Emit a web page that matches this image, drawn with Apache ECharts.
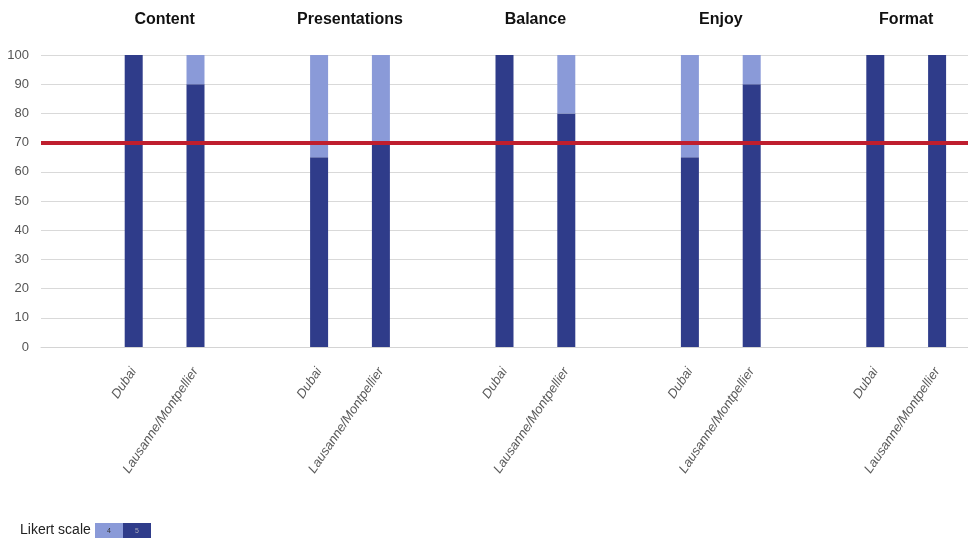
<!DOCTYPE html>
<html>
<head>
<meta charset="utf-8">
<script src="https://cdn.jsdelivr.net/npm/echarts@6/dist/echarts.min.js"></script>
<style>
  body { margin: 0; background: #fff; }
  #main { width: 968px; height: 540px; }
</style>
</head>
<body>
<div id="main"></div>
<script>
// 3 slots per group: spacer, Dubai, Lausanne/Montpellier
var groups = ['Content', 'Presentations', 'Balance', 'Enjoy', 'Format']
var sites = ['Dubai', 'Lausanne/Montpellier']
var likert5 = [100, 90, 65, 70, 100, 80, 65, 90, 100, 100]
var likert4 = [0, 10, 35, 30, 0, 20, 35, 10, 0, 0]
var yTicks = [0, 10, 20, 30, 40, 50, 60, 70, 80, 90, 100]
var threshold = 70

var dark = '#2f3c8a'
var light = '#8a9ad8'

var categories = []
var data5 = []
var data4 = []
for (var g = 0; g < groups.length; g++) {
  categories.push('')
  data5.push('-')
  data4.push('-')
  for (var s = 0; s < sites.length; s++) {
    categories.push(sites[s])
    data5.push(likert5[g * 2 + s])
    data4.push(likert4[g * 2 + s])
  }
}

var chart = echarts.init(document.getElementById('main'))
var option = {
  animation: false,
  grid: { left: 41, top: 55, width: 938, height: 292 },
  xAxis: {
    type: 'category',
    data: categories,
    axisLine: { lineStyle: { color: '#d4d4d4' } },
    axisTick: { show: false },
    axisLabel: {
      interval: 0,
      rotate: 56,
      margin: 22,
      color: '#5a5a5a',
      fontSize: 13,
      fontStyle: 'italic',
      fontFamily: 'Liberation Sans Narrow, Liberation Sans, sans-serif'
    }
  },
  yAxis: {
    type: 'value',
    min: yTicks[0],
    max: yTicks[yTicks.length - 1],
    interval: 10,
    axisLine: { show: false },
    axisTick: { show: false },
    splitLine: { lineStyle: { color: '#d9d9d9' } },
    axisLabel: {
      color: '#555',
      fontSize: 13,
      margin: 12,
      fontFamily: 'Liberation Sans Narrow, Liberation Sans, sans-serif'
    }
  },
  series: [
    {
      name: '5',
      type: 'bar',
      stack: 'likert',
      barWidth: 18,
      itemStyle: { color: dark },
      data: data5,
      markLine: {
        symbol: 'none',
        silent: true,
        label: { show: false },
        lineStyle: { color: '#bf1e2e', width: 4, type: 'solid' },
        data: [{ yAxis: threshold }]
      }
    },
    {
      name: '4',
      type: 'bar',
      stack: 'likert',
      barWidth: 18,
      itemStyle: { color: light },
      data: data4
    }
  ]
}
chart.setOption(option)

// group titles centred over the two bars of each group
var graphics = []
for (var i = 0; i < groups.length; i++) {
  var x1 = chart.convertToPixel({ xAxisIndex: 0 }, i * 3 + 1)
  var x2 = chart.convertToPixel({ xAxisIndex: 0 }, i * 3 + 2)
  graphics.push({
    type: 'text',
    x: (x1 + x2) / 2,
    y: 20,
    style: {
      text: groups[i],
      align: 'center',
      verticalAlign: 'middle',
      fontSize: 16,
      fontWeight: 'bold',
      fontFamily: 'Liberation Sans Narrow, Liberation Sans, sans-serif',
      fill: '#111'
    }
  })
}
// legend box
graphics.push({
  type: 'text', x: 20, y: 530,
  style: { text: 'Likert scale', verticalAlign: 'middle', fontSize: 14, fontFamily: 'Liberation Sans Narrow, Liberation Sans, sans-serif', fill: '#222' }
})
var legendNames = ['4', '5']
var legendColors = [light, dark]
for (var k = 0; k < legendNames.length; k++) {
  graphics.push({
    type: 'rect',
    shape: { x: 95 + k * 28, y: 523, width: 28, height: 15 },
    style: { fill: legendColors[k] }
  })
  graphics.push({
    type: 'text', x: 109 + k * 28, y: 531,
    style: { text: legendNames[k], align: 'center', verticalAlign: 'middle', fontSize: 7, fill: k === 0 ? '#333' : '#aab' }
  })
}
chart.setOption({ graphic: graphics })
</script>
</body>
</html>
